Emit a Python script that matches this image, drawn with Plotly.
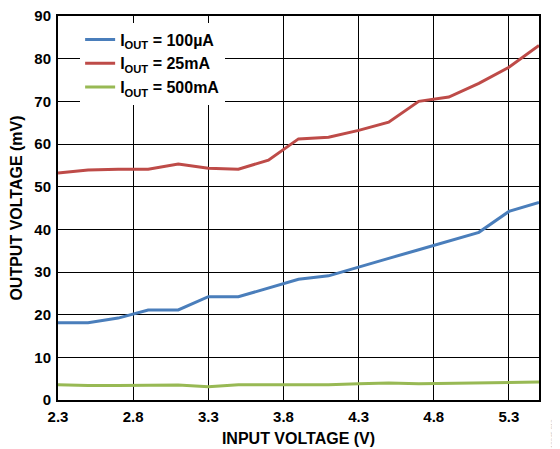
import plotly.graph_objects as go

vin = [2.3, 2.5, 2.7, 2.9, 3.1, 3.3, 3.5, 3.7, 3.9, 4.1, 4.3, 4.5, 4.7, 4.9, 5.1, 5.3, 5.5]
vout_100ua = [18.1, 18.1, 19.2, 21.1, 21.1, 24.2, 24.2, 26.3, 28.3, 29.1, 31.2, 33.2, 35.2, 37.3, 39.3, 44.2, 46.3]
vout_25ma = [53.2, 53.9, 54.1, 54.1, 55.3, 54.3, 54.1, 56.2, 61.2, 61.6, 63.2, 65.1, 70.0, 71.0, 74.2, 78.0, 83.1]
vout_500ma = [3.6, 3.4, 3.4, 3.5, 3.5, 3.1, 3.6, 3.6, 3.6, 3.6, 3.8, 4.0, 3.8, 3.9, 4.0, 4.2, 4.2]

x_ticks = [2.3, 2.8, 3.3, 3.8, 4.3, 4.8, 5.3]
y_ticks = [0, 10, 20, 30, 40, 50, 60, 70, 80, 90]

names = ["I<sub>OUT</sub> = 100µA", "I<sub>OUT</sub> = 25mA", "I<sub>OUT</sub> = 500mA"]
colors = ["#4a7ebb", "#be4b48", "#98b954"]

fig = go.Figure()
for ys, nm, c in zip([vout_100ua, vout_25ma, vout_500ma], names, colors):
    fig.add_trace(go.Scatter(x=vin, y=ys, mode="lines", name=nm,
                             line=dict(color=c, width=3)))

font = "Liberation Sans, Arial, sans-serif"
# page body has an 8px default margin, so the figure is sized/offset to compensate
fig.update_layout(
    width=552, height=441,
    margin=dict(l=50, r=21, t=8, b=49, autoexpand=False),
    paper_bgcolor="white", plot_bgcolor="white",
    font=dict(family=font, size=15, color="black"),
    legend=dict(x=0.046, y=0.983, xanchor="left", yanchor="top",
                bgcolor="white", borderwidth=0, tracegroupgap=0,
                itemwidth=30, font=dict(size=16, family=font, weight="bold")),
    xaxis=dict(range=[2.3, 5.5], tickvals=x_ticks, ticktext=[f"{v:.1f}" for v in x_ticks],
               showgrid=True, gridcolor="black", gridwidth=1,
               showline=True, linecolor="black", linewidth=2, mirror=True,
               ticks="", zeroline=False, ticklabelstandoff=2, ticklabeloverflow="allow",
               tickfont=dict(size=15, weight="bold"),
               title=dict(text="<b>INPUT VOLTAGE (V)</b>", font=dict(size=16), standoff=9)),
    yaxis=dict(range=[0, 90], tickvals=y_ticks,
               showgrid=True, gridcolor="black", gridwidth=1,
               showline=True, linecolor="black", linewidth=2, mirror=True,
               ticks="", zeroline=False, ticklabelstandoff=2, ticklabeloverflow="allow",
               tickfont=dict(size=15, weight="bold"),
               title=dict(text="<b>OUTPUT VOLTAGE (mV)</b>", font=dict(size=16), standoff=10)),
)
fig.add_annotation(text="12345-012", x=1.02, y=-0.13, xref="paper", yref="paper",
                   textangle=-90, showarrow=False, xanchor="left", yanchor="bottom",
                   font=dict(size=6, color="#c0c0c0"))

fig.write_html("out.html")
